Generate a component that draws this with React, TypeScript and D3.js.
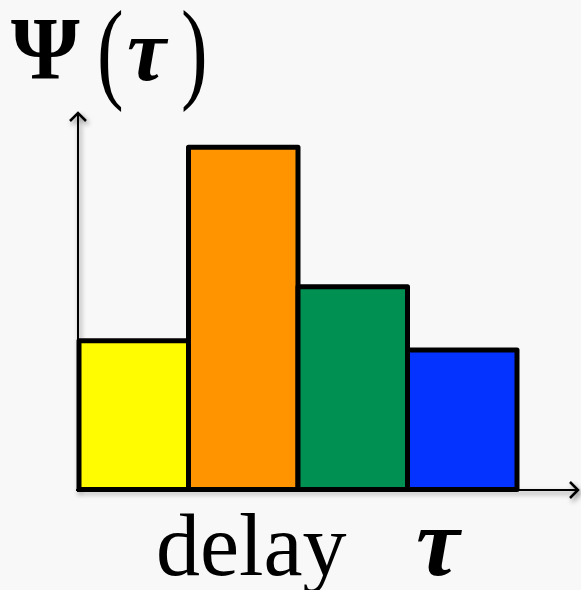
import React from "react";
import * as d3 from "d3";

const categories = ["a", "b", "c", "d"];
const values = [1.6, 3.68, 2.18, 1.5];
const colors = ["#FFFB00", "#FF9300", "#009051", "#0433FF"];
const yLabelParts = ["Ψ", "(", "τ", ")"];
const xLabelParts = ["delay", "τ"];

export default function App() {
  const W = 581, H = 590;
  const x = d3.scaleBand().domain(categories).range([79, 517]).padding(0);
  const y = d3.scaleLinear().domain([0, 4]).range([489.5, 117.5]);
  const serif = "'Liberation Serif', 'DejaVu Serif', serif";
  return (
    <svg width={W} height={H} style={{ position: "absolute", left: 0, top: 0, background: "#f8f8f8" }}>
      <defs>
        <filter id="sh" x="-20%" y="-20%" width="140%" height="140%">
          <feDropShadow dx="2" dy="3" stdDeviation="2.5" floodColor="#000" floodOpacity="0.45" />
        </filter>
      </defs>
      <rect width={W} height={H} fill="#f8f8f8" />
      <g filter="url(#sh)" stroke="#000" fill="none" strokeWidth={2}>
        <line x1={78} y1={492} x2={78} y2={113} />
        <polyline points="70,121 78,113 86,121" strokeWidth={2.5} />
        <line x1={76} y1={490} x2={578} y2={490} />
        <polyline points="570,482 578,490 570,498" strokeWidth={2.5} />
      </g>
      {categories.map((c, i) => (
        <rect
          key={c}
          x={x(c)}
          y={y(values[i])}
          width={x.bandwidth()}
          height={y(0) - y(values[i])}
          fill={colors[i]}
          stroke="#000"
          strokeWidth={5}
          strokeLinejoin="round"
        />
      ))}
      <text x={11} y={78} fontFamily={serif} fontSize={88} fontWeight="bold" fill="#000">{yLabelParts[0]}</text>
      <text transform="translate(97,88) scale(1,1.4)" fontFamily={serif} fontSize={80} fill="#000">{yLabelParts[1]}</text>
      <text x={127} y={80} fontFamily={serif} fontSize={88} fontStyle="italic" fontWeight="bold" fill="#000">{yLabelParts[2]}</text>
      <text transform="translate(181,88) scale(1,1.4)" fontFamily={serif} fontSize={80} fill="#000">{yLabelParts[3]}</text>
      <text x={156} y={575} fontFamily={serif} fontSize={88} fill="#000">{xLabelParts[0]}</text>
      <text x={416} y={575} fontFamily={serif} fontSize={98} fontStyle="italic" fontWeight="bold" fill="#000">{xLabelParts[1]}</text>
    </svg>
  );
}
